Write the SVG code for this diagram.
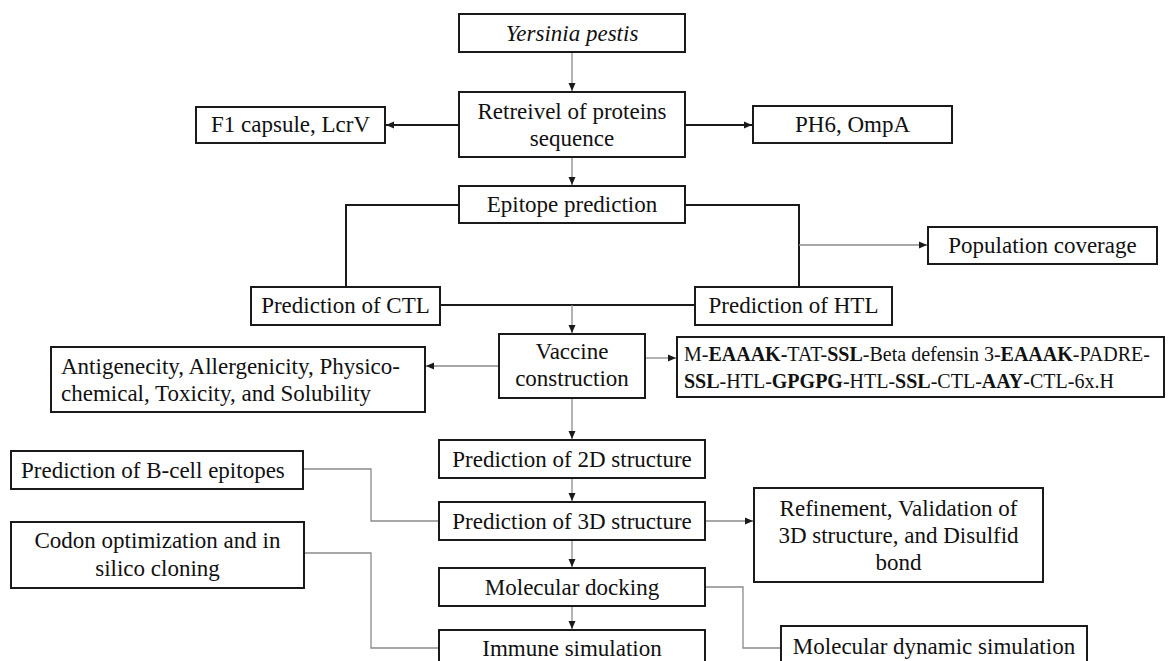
<svg xmlns="http://www.w3.org/2000/svg" width="1168" height="661" viewBox="0 0 1168 661">
<style>
.box{fill:#fff;stroke:#1a1a1a;stroke-width:2}
.t{font-family:"Liberation Serif","Times New Roman",serif;font-size:23px;fill:#111}
.c{text-anchor:middle}
.bk{fill:none;stroke:#1a1a1a;stroke-width:2}
.gr{fill:none;stroke:#8a8a8a;stroke-width:1.3}
.m{font-size:20px}
.b{font-weight:bold}
</style>
<defs>
<marker id="ah" markerUnits="userSpaceOnUse" markerWidth="8" markerHeight="8" refX="8" refY="4" orient="auto">
<path d="M0,0.5 L8,4 L0,7.5 z" fill="#1a1a1a"/>
</marker>
</defs>
<rect width="1168" height="661" fill="#fff"/>
<g id="connectors">
<line class="bk" x1="459" y1="125" x2="386" y2="125" marker-end="url(#ah)"/>
<line class="bk" x1="685" y1="125" x2="752" y2="125" marker-end="url(#ah)"/>
<polyline class="bk" points="459,205 346,205 346,287"/>
<polyline class="bk" points="685,205 799,205 799,287"/>
<line class="bk" x1="440" y1="305" x2="695" y2="305"/>
<line class="gr" x1="572" y1="52" x2="572" y2="91" marker-end="url(#ah)"/>
<line class="gr" x1="572" y1="157" x2="572" y2="185" marker-end="url(#ah)"/>
<line class="gr" x1="799" y1="245" x2="927" y2="245" marker-end="url(#ah)"/>
<line class="gr" x1="572" y1="305" x2="572" y2="333" marker-end="url(#ah)"/>
<line class="gr" x1="499" y1="366" x2="426" y2="366" marker-end="url(#ah)"/>
<line class="gr" x1="645" y1="358" x2="676" y2="358" marker-end="url(#ah)"/>
<line class="gr" x1="572" y1="398" x2="572" y2="439" marker-end="url(#ah)"/>
<line class="gr" x1="572" y1="478" x2="572" y2="501" marker-end="url(#ah)"/>
<line class="gr" x1="705" y1="521" x2="753" y2="521" marker-end="url(#ah)"/>
<line class="gr" x1="572" y1="540" x2="572" y2="567" marker-end="url(#ah)"/>
<line class="gr" x1="572" y1="606" x2="572" y2="629" marker-end="url(#ah)"/>
<polyline class="gr" points="303,469 371,469 371,521 439,521"/>
<polyline class="gr" points="304,553 371,553 371,648 439,648"/>
<polyline class="gr" points="705,587 743,587 743,648 781,648"/>
</g>
<g id="yersinia"><rect class="box" x="459" y="14" width="226" height="38"/><text class="t c" x="572" y="41" font-style="italic">Yersinia pestis</text></g>
<g id="retreivel"><rect class="box" x="459" y="92" width="226" height="65"/><text class="t c" x="572" y="119">Retreivel of proteins</text><text class="t c" x="572" y="146">sequence</text></g>
<g id="f1"><rect class="box" x="196" y="107" width="189" height="36"/><text class="t c" x="290.5" y="132">F1 capsule, LcrV</text></g>
<g id="ph6"><rect class="box" x="753" y="106" width="199" height="37"/><text class="t c" x="852.5" y="132">PH6, OmpA</text></g>
<g id="epitope"><rect class="box" x="459" y="186" width="226" height="37"/><text class="t c" x="572" y="212">Epitope prediction</text></g>
<g id="population"><rect class="box" x="928" y="227" width="229" height="37"/><text class="t c" x="1042.5" y="253">Population coverage</text></g>
<g id="ctl"><rect class="box" x="251" y="287" width="189" height="38"/><text class="t c" x="345.5" y="313">Prediction of CTL</text></g>
<g id="htl"><rect class="box" x="695" y="287" width="197" height="38"/><text class="t c" x="793.5" y="313">Prediction of HTL</text></g>
<g id="vaccine"><rect class="box" x="499" y="334" width="146" height="64"/><text class="t c" x="572" y="359">Vaccine</text><text class="t c" x="572" y="386">construction</text></g>
<g id="antigenecity"><rect class="box" x="51" y="347" width="374" height="65"/><text class="t" x="61" y="374">Antigenecity, Allergenicity, Physico-</text><text class="t" x="61" y="401">chemical, Toxicity, and Solubility</text></g>
<g id="construct"><rect class="box" x="677" y="337" width="487" height="60"/>
<text class="t m" x="684" y="361">M-<tspan class="b">EAAAK-</tspan>TAT-<tspan class="b">SSL</tspan>-Beta defensin 3-<tspan class="b">EAAAK</tspan>-PADRE-</text>
<text class="t m" x="684" y="388"><tspan class="b">SSL</tspan>-HTL-<tspan class="b">GPGPG</tspan>-HTL-<tspan class="b">SSL</tspan>-CTL-<tspan class="b">AAY</tspan>-CTL-6x.H</text></g>
<g id="bcell"><rect class="box" x="11" y="451" width="292" height="38"/><text class="t" x="21" y="478">Prediction of B-cell epitopes</text></g>
<g id="s2d"><rect class="box" x="439" y="440" width="266" height="38"/><text class="t c" x="572" y="467">Prediction of 2D structure</text></g>
<g id="s3d"><rect class="box" x="439" y="502" width="266" height="38"/><text class="t c" x="572" y="529">Prediction of 3D structure</text></g>
<g id="refinement"><rect class="box" x="754" y="488" width="289" height="94"/><text class="t c" x="898.5" y="516">Refinement, Validation of</text><text class="t c" x="898.5" y="543">3D structure, and Disulfid</text><text class="t c" x="898.5" y="570">bond</text></g>
<g id="codon"><rect class="box" x="11" y="522" width="293" height="66"/><text class="t c" x="157.5" y="548">Codon optimization and in</text><text class="t c" x="157.5" y="576">silico cloning</text></g>
<g id="docking"><rect class="box" x="439" y="568" width="266" height="38"/><text class="t c" x="572" y="595">Molecular docking</text></g>
<g id="immune"><rect class="box" x="439" y="630" width="266" height="40"/><text class="t c" x="572" y="656">Immune simulation</text></g>
<g id="md"><rect class="box" x="781" y="626" width="306" height="44"/><text class="t c" x="934" y="654">Molecular dynamic simulation</text></g>
</svg>
